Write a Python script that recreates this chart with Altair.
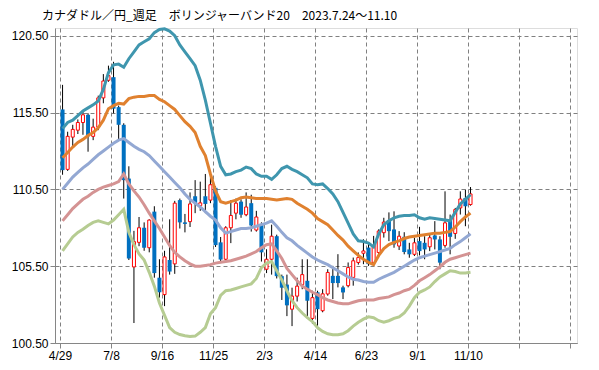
import altair as alt
import pandas as pd

TITLE = "カナダドル／円_週足　ボリンジャーバンド20　2023.7.24〜11.10"

# x axis: week index, labelled every 10 weeks
X_TICK_POS = [0, 10, 20, 30, 40, 50, 60, 70, 80, 90, 100]
X_TICK_LABELS = ["4/29", "7/8", "9/16", "11/25", "2/3", "4/14", "6/23", "9/1", "11/10", "", ""]
Y_TICKS = [100.5, 105.5, 110.5, 115.5, 120.5]

# weekly candles (CAD/JPY), 2022/4/29 .. 2023/11/10
OPEN = [115.70, 111.80, 113.90, 114.35, 114.85, 115.35, 113.95, 114.55, 116.45, 117.60,
        117.80, 115.85, 114.70, 111.20, 105.45, 107.05, 108.00, 106.70, 109.05, 104.75,
        103.65, 105.90, 105.65, 109.80, 108.35, 108.40, 110.05, 109.45, 110.05, 109.80,
        110.60, 107.05, 105.95, 108.00, 108.95, 109.70, 108.85, 109.60, 107.85, 108.25,
        105.30, 105.95, 107.45, 104.85, 104.30, 102.70, 103.55, 104.30, 104.55, 102.10,
        103.80, 102.60, 103.69, 104.87, 104.87, 104.12, 104.23, 104.77, 105.74, 106.34,
        106.71, 105.74, 106.39, 107.68, 108.50, 107.89, 106.81, 107.41, 106.59, 106.27,
        107.13, 107.02, 106.76, 107.50, 107.24, 106.85, 108.53, 107.63, 109.29, 109.94,
        109.51]
HIGH = [117.30, 114.25, 114.70, 115.05, 115.55, 115.45, 115.10, 116.60, 118.00, 118.55,
        118.80, 115.95, 114.80, 112.00, 107.80, 108.70, 108.35, 108.55, 109.40, 105.95,
        106.50, 108.55, 109.75, 109.90, 108.90, 110.30, 111.10, 111.00, 111.50, 111.55,
        110.70, 107.40, 108.10, 109.80, 109.90, 109.85, 110.30, 110.15, 109.10, 108.35,
        106.60, 108.20, 107.55, 104.95, 104.95, 104.10, 104.75, 105.95, 105.95, 103.90,
        103.90, 104.00, 105.30, 105.52, 106.28, 104.23, 105.74, 106.06, 106.39, 107.25,
        107.03, 107.47, 107.90, 108.65, 109.00, 109.07, 107.78, 107.71, 107.02, 107.35,
        108.06, 107.45, 107.63, 108.43, 107.45, 110.37, 108.86, 109.29, 110.37, 110.48,
        110.65]
LOW = [111.45, 111.70, 113.20, 114.10, 114.05, 112.95, 113.70, 114.35, 116.10, 117.50,
       115.45, 113.70, 109.90, 105.90, 101.80, 106.80, 106.50, 106.40, 104.75, 103.45,
       102.90, 104.95, 105.00, 107.95, 107.70, 108.05, 108.95, 109.10, 108.95, 109.60,
       106.75, 105.70, 105.85, 107.00, 108.55, 108.65, 108.75, 107.75, 107.75, 105.80,
       105.05, 104.95, 104.70, 103.30, 102.25, 101.60, 103.20, 104.00, 102.10, 101.75,
       101.40, 102.50, 103.58, 103.36, 104.12, 103.36, 104.12, 104.23, 105.60, 105.63,
       105.52, 105.63, 106.17, 107.36, 107.13, 106.70, 106.55, 106.27, 106.05, 106.16,
       106.20, 105.95, 106.48, 106.59, 105.30, 106.70, 106.27, 107.28, 108.86, 108.10,
       109.44]
CLOSE = [111.75, 113.95, 114.40, 114.85, 115.35, 113.95, 114.55, 116.45, 117.55, 117.90,
         115.75, 114.70, 111.10, 106.00, 107.10, 108.00, 106.70, 108.50, 105.05, 103.80,
         106.10, 105.15, 109.60, 108.35, 108.25, 109.55, 109.60, 109.62, 109.55, 110.80,
         106.87, 105.93, 108.00, 108.80, 109.60, 108.85, 109.35, 108.15, 108.70, 106.40,
         105.95, 107.45, 104.85, 104.10, 102.95, 103.55, 104.20, 104.95, 103.25, 103.45,
         102.70, 103.70, 105.09, 104.40, 104.40, 103.79, 105.41, 105.85, 106.06, 106.49,
         105.63, 106.86, 107.79, 108.37, 107.78, 106.92, 107.45, 106.42, 106.27, 107.02,
         106.48, 106.59, 107.35, 107.24, 105.73, 108.32, 107.41, 109.18, 109.87, 109.40,
         110.20]

# Bollinger band (20) lines
BB_UP2 = [114.45, 114.85, 115.00, 115.30, 115.60, 115.80, 116.00, 116.25, 117.00, 118.10,
          118.60, 118.65, 118.45, 119.00, 119.45, 119.90, 120.10, 120.30, 120.70, 120.90,
          120.95, 120.80, 120.50, 119.90, 119.45, 119.00, 118.55, 117.60, 116.30, 114.80,
          113.30, 112.00, 111.45, 111.50, 111.65, 111.75, 111.95, 111.85, 111.50, 111.35,
          111.35, 111.15, 111.45, 111.85, 112.00, 111.80, 111.65, 111.45, 111.25, 110.85,
          110.80, 110.85, 110.55, 110.20, 109.70, 109.00, 108.30, 107.60, 107.15, 107.10,
          107.00, 106.75, 107.60, 108.20, 108.45, 108.65, 108.75, 108.80, 108.80, 108.85,
          108.65, 108.55, 108.65, 108.60, 108.55, 108.50, 108.45, 109.00, 109.55, 109.85,
          110.15]
BB_UP1 = [112.55, 112.90, 113.25, 113.55, 113.75, 114.00, 114.20, 114.50, 115.00, 115.75,
          115.95, 116.10, 116.05, 116.40, 116.50, 116.55, 116.55, 116.60, 116.60, 116.35,
          116.20, 115.95, 115.70, 115.30, 114.90, 114.60, 114.20, 113.30, 112.70, 111.50,
          110.40, 109.70, 109.60, 109.70, 109.80, 109.95, 110.00, 109.95, 109.90, 109.90,
          109.90, 109.85, 109.80, 109.85, 109.90, 109.85, 109.60, 109.40, 109.20, 108.95,
          108.60, 108.40, 108.20, 107.85, 107.50, 107.20, 106.80, 106.50, 106.20, 105.95,
          105.75, 105.60, 106.20, 106.65, 106.90, 107.05, 107.15, 107.30, 107.40, 107.45,
          107.50, 107.55, 107.60, 107.65, 107.65, 107.70, 107.75, 108.05, 108.40, 108.70,
          108.95]
BB_MA = [110.50, 110.90, 111.30, 111.60, 111.90, 112.15, 112.45, 112.75, 113.00, 113.25,
         113.50, 113.70, 113.80, 113.55, 113.30, 113.10, 112.95, 112.70, 112.35, 112.00,
         111.65, 111.30, 110.95, 110.60, 110.20, 109.85, 109.60, 109.35, 109.05, 108.75,
         108.50, 108.00, 107.65, 107.75, 107.85, 107.95, 107.95, 108.00, 108.10, 108.20,
         108.30, 108.45, 108.10, 107.70, 107.35, 107.15, 106.85, 106.60, 106.35, 106.10,
         105.90, 105.75, 105.60, 105.40, 105.20, 105.00, 104.80, 104.65, 104.60, 104.50,
         104.45, 104.45, 104.65, 104.80, 104.95, 105.10, 105.30, 105.50, 105.70, 105.90,
         106.05, 106.15, 106.25, 106.35, 106.45, 106.55, 106.65, 106.90, 107.10, 107.35,
         107.60]
BB_DN1 = [108.45, 108.85, 109.25, 109.55, 109.85, 110.05, 110.30, 110.50, 110.65, 110.75,
          110.85, 111.00, 111.50, 110.85, 110.40, 110.00, 109.50, 108.95, 108.45, 107.95,
          107.40, 106.85, 106.40, 106.10, 105.85, 105.65, 105.50, 105.50, 105.55, 105.60,
          105.70, 105.75, 105.80, 105.85, 105.95, 106.05, 106.15, 106.30, 106.45, 106.70,
          106.90, 106.95, 106.50, 106.00, 105.35, 104.95, 104.55, 104.20, 104.00, 103.80,
          103.65, 103.45, 103.30, 103.20, 103.10, 103.05, 103.05, 103.15, 103.25, 103.30,
          103.30, 103.30, 103.40, 103.45, 103.50, 103.65, 103.75, 103.90, 104.00, 104.25,
          104.55, 104.75, 104.95, 105.20, 105.45, 105.75, 105.95, 106.05, 106.15, 106.25,
          106.35]
BB_DN2 = [106.50, 106.95, 107.40, 107.70, 107.90, 108.15, 108.35, 108.45, 108.35, 108.25,
          108.50, 108.85, 109.20, 107.70, 106.90, 106.30, 105.90, 105.10, 104.20, 103.10,
          102.30, 101.50, 101.20, 101.05, 100.97, 100.93, 100.95, 101.20, 101.50, 102.40,
          102.80, 103.60, 103.90, 103.95, 104.05, 104.15, 104.25, 104.35, 104.70, 105.40,
          105.70, 105.80, 105.20, 104.60, 103.90, 103.25, 102.80, 102.45, 102.15, 101.90,
          101.50, 101.25, 101.10, 101.04, 101.04, 101.10, 101.30, 101.60, 101.85, 102.05,
          102.20, 102.15, 101.95, 101.85, 101.95, 102.10, 102.20, 102.45, 102.90, 103.45,
          103.80, 103.95, 104.15, 104.50, 104.80, 105.00, 105.20, 105.15, 105.05, 105.05,
          105.10]

LINE_NAMES = ["+2σ", "+1σ", "MA20", "-1σ", "-2σ"]
LINE_COLORS = ["#3F96AE", "#E0812F", "#93A8D3", "#D49393", "#B6CC92"]

n = len(CLOSE)
candles = pd.DataFrame({
    "i": list(range(n)),
    "open": OPEN, "high": HIGH, "low": LOW, "close": CLOSE,
})
candles["t"] = candles["i"] + 0.5
candles["body_lo"] = candles[["open", "close"]].min(axis=1)
candles["body_hi"] = candles[["open", "close"]].max(axis=1)
candles["up"] = candles["close"] >= candles["open"]

rows = []
for name, vals in zip(LINE_NAMES, [BB_UP2, BB_UP1, BB_MA, BB_DN1, BB_DN2]):
    for k, v in enumerate(vals):
        rows.append({"series": name, "t": k + 0.5, "v": v})
lines = pd.DataFrame(rows)

label_expr = "".join(
    f"datum.value == {p} ? '{lab}' : " for p, lab in zip(X_TICK_POS, X_TICK_LABELS)
) + "''"

AX = dict(
    grid=True, gridColor="#808080", gridDash=[4, 3], gridWidth=1,
    domainColor="#868686", tickColor="#868686", tickSize=5,
    labelFont="Liberation Sans", labelFontSize=12, labelColor="#000000",
    title=None,
)

x_enc = alt.X("t:Q", scale=alt.Scale(domain=[0, 100.4], nice=False, zero=False),
              axis=alt.Axis(values=X_TICK_POS, labelExpr=label_expr, labelPadding=2, **AX))
y_scale = alt.Scale(domain=[100.5, 121], nice=False, zero=False)
y_axis = alt.Axis(values=Y_TICKS, format=".2f", labelPadding=2, **AX)

base = alt.Chart(candles)

wicks = base.mark_rule(color="#000000", strokeWidth=1).encode(
    x=x_enc,
    y=alt.Y("low:Q", scale=y_scale, axis=y_axis),
    y2="high:Q",
)
down = base.transform_filter("!datum.up").mark_bar(size=4, color="#0070C0").encode(
    x="t:Q", y="body_lo:Q", y2="body_hi:Q"
)
up = base.transform_filter("datum.up").mark_bar(
    size=3, fill="#FFFFFF", stroke="#FF0000", strokeWidth=1
).encode(x="t:Q", y="body_lo:Q", y2="body_hi:Q")

bands = alt.Chart(lines).mark_line(strokeWidth=3).encode(
    x="t:Q", y="v:Q",
    color=alt.Color("series:N", scale=alt.Scale(domain=LINE_NAMES, range=LINE_COLORS), legend=None),
    detail="series:N",
)

title = alt.Chart(pd.DataFrame({"text": [TITLE]})).mark_text(
    align="left", baseline="alphabetic", font="Noto Sans CJK JP", fontSize=12, color="#000000"
).encode(x=alt.value(-13), y=alt.value(-8), text="text:N")

chart = alt.layer(wicks, down, up, bands, title).properties(
    width=522, height=315,
    autosize=alt.AutoSizeParams(type="none"),
    padding={"left": 47, "top": 20, "right": 14, "bottom": 20},
).configure_view(stroke="#868686", strokeWidth=1).configure(background="#FFFFFF")

chart.save("out.html", embed_options={"renderer": "svg", "actions": False})
